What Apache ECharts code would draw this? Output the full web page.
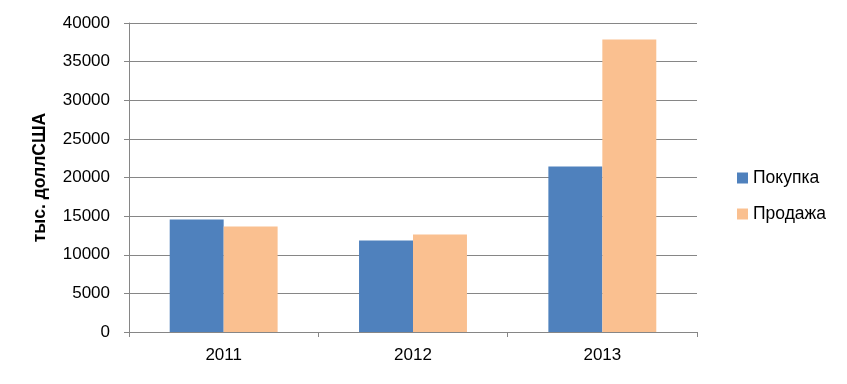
<!DOCTYPE html>
<html><head><meta charset="utf-8">
<script src="https://cdn.jsdelivr.net/npm/echarts@6/dist/echarts.min.js"></script>
<style>html,body{margin:0;padding:0;background:#fff}#c{width:847px;height:384px}</style>
</head><body><div id="c"></div>
<script>
const categories = ['2011', '2012', '2013'];
const purchase = [14550, 11830, 21420];
const sale = [13650, 12610, 37880];
const seriesNames = ['Покупка', 'Продажа'];
const yTitle = 'тыс. доллСША';

const font = "'Liberation Sans', Arial, sans-serif";
const chart = echarts.init(document.getElementById('c'));
chart.setOption({
  animation: false,
  grid: { left: 129, right: 150, top: 23, bottom: 52 },
  legend: {
    orient: 'vertical', left: 732, top: 164, itemWidth: 11, itemHeight: 11, itemGap: 18,
    icon: 'rect',
    textStyle: { fontFamily: font, fontSize: 17.5, color: '#000', padding: [0, 0, 0, 0] },
    data: seriesNames
  },
  xAxis: {
    type: 'category', data: categories,
    axisLine: { lineStyle: { color: '#868686', width: 1 } },
    axisTick: { show: true, length: 5, lineStyle: { color: '#868686' } },
    axisLabel: { fontFamily: font, fontSize: 17, color: '#000', margin: 15 }
  },
  yAxis: {
    type: 'value', min: 0, max: 40000, interval: 5000,
    name: yTitle, nameLocation: 'middle', nameGap: 80, nameRotate: 90,
    nameTextStyle: { fontFamily: font, fontSize: 17.5, fontWeight: 'bold', color: '#000' },
    axisLine: { show: true, lineStyle: { color: '#868686', width: 1 } },
    axisTick: { show: true, length: 5, lineStyle: { color: '#868686' } },
    axisLabel: { fontFamily: font, fontSize: 17, color: '#000', margin: 19, formatter: v => String(v) },
    splitLine: { lineStyle: { color: '#868686', width: 1 } }
  },
  series: [
    { name: seriesNames[0], type: 'bar', data: purchase, barGap: '0%', barCategoryGap: '43%', itemStyle: { color: '#4F81BD' } },
    { name: seriesNames[1], type: 'bar', data: sale, itemStyle: { color: '#FAC090' } }
  ]
});
</script></body></html>
